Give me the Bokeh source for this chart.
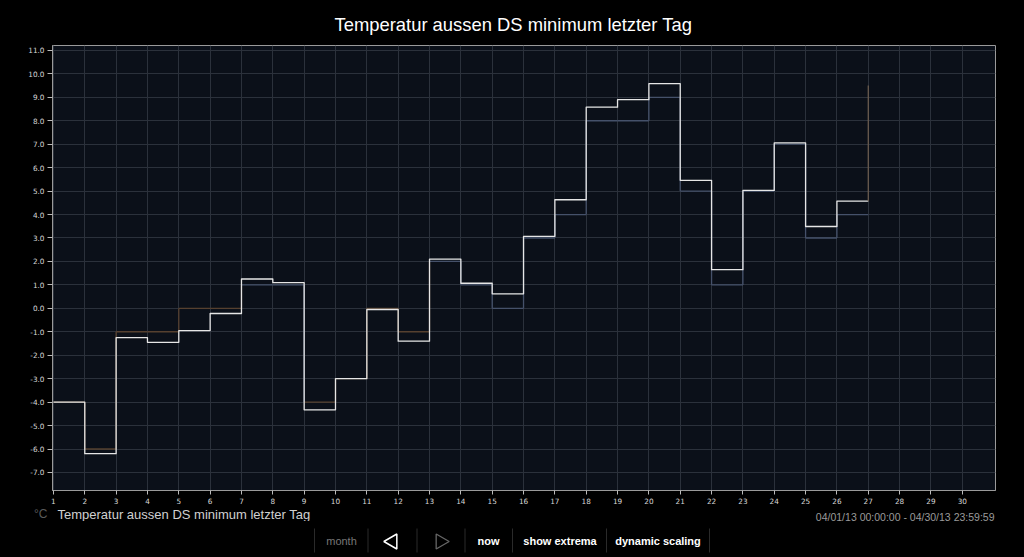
import math
from bokeh.plotting import figure
from bokeh.models import Range1d, FixedTicker, PrintfTickFormatter, ColumnDataSource
from bokeh.layouts import column
from bokeh.embed import file_html
from bokeh.resources import INLINE
from bokeh.core.properties import value

# ---- data -------------------------------------------------------------
days = list(range(1, 28))  # day boundaries (1 .. 27)
tagesminimum = [-4.0, -6.2, -1.25, -1.45, -0.95, -0.22, 1.25, 1.1, -4.33, -3.0,
                -0.05, -1.4, 2.1, 1.07, 0.62, 3.07, 4.63, 8.58, 8.9, 9.58,
                5.46, 1.65, 5.03, 7.06, 3.49, 4.57]
ganzzahlig = [-4, -6, -1, -1, 0, 0, 1, 1, -4, -3,
              0, -1, 2, 1, 0, 3, 4, 8, 8, 9,
              5, 1, 5, 7, 3, 4]
aktuell_tag = 27
aktuell_wert = 9.5
x_ticks = list(range(1, 31))
y_ticks = list(range(-7, 12))
title_text = "Temperatur aussen DS minimum letzter Tag"
unit_text = "°C"
legend_text = "Temperatur aussen DS minimum letzter Tag"
date_text = "04/01/13 00:00:00 - 04/30/13 23:59:59"
button_labels = ["month", "now", "show extrema", "dynamic scaling"]

W = 1022
BG = "#000000"
FL, FR = 52, 995  # frame left / right on the page

# ---- main figure (page y 0..506) ----------------------------------------
p = figure(width=W, height=506, output_backend="svg", toolbar_location=None,
           x_range=Range1d(0.97, 31.06), y_range=Range1d(-7.77, 11.21),
           min_border_left=FL, min_border_right=W - FR, min_border_top=45,
           min_border_bottom=16)
p.background_fill_color = "#0b1019"
p.border_fill_color = BG
p.outline_line_color = "#9a9a9a"
p.outline_line_width = 1

p.title.text = title_text
p.title.align = "left"
p.title.offset = 282
p.title.standoff = 21
p.title.text_color = "#ffffff"
p.title.text_font = "Liberation Sans"
p.title.text_font_size = "18.4px"
p.title.text_font_style = "normal"

for ax in (p.xaxis[0], p.yaxis[0]):
    ax.axis_line_color = "#9a9a9a"
    ax.major_tick_line_color = "#bbbbbb"
    ax.minor_tick_line_color = None
    ax.major_label_text_color = "#d8d8d8"
    ax.major_label_text_font = "DejaVu Sans"
    ax.major_label_text_font_size = "7.3px"
    ax.major_tick_in = 0
    ax.major_tick_out = 4
    ax.major_label_standoff = 3

p.xaxis.ticker = FixedTicker(ticks=x_ticks)
p.yaxis.ticker = FixedTicker(ticks=y_ticks)
p.yaxis.formatter = PrintfTickFormatter(format="%.1f")
p.yaxis.major_tick_out = 5

p.xgrid.ticker = FixedTicker(ticks=x_ticks)
p.ygrid.ticker = FixedTicker(ticks=y_ticks)
p.grid.grid_line_color = "#2b313b"
p.grid.grid_line_width = 1

# integer series, coloured by sign of the source value
x0, y0, x1, y1, cols = [], [], [], [], []
for i in range(len(ganzzahlig)):
    c = "#56402f" if tagesminimum[i] < 0 else "#45516a"
    x0.append(days[i]); y0.append(ganzzahlig[i]); x1.append(days[i + 1]); y1.append(ganzzahlig[i]); cols.append(c)
    if i + 1 < len(ganzzahlig):
        x0.append(days[i + 1]); y0.append(ganzzahlig[i]); x1.append(days[i + 1]); y1.append(ganzzahlig[i + 1]); cols.append(c)
seg_src = ColumnDataSource(dict(x0=x0, y0=y0, x1=x1, y1=y1, c=cols))
p.segment(x0="x0", y0="y0", x1="x1", y1="y1", color="c", line_width=1.3, source=seg_src)

# main white step line
p.step(x=days, y=tagesminimum + [tagesminimum[-1]], mode="after",
       line_color="#e6e6e6", line_width=1.3, line_join="round")

# current value spike
p.segment(x0=[aktuell_tag], y0=[tagesminimum[-1]], x1=[aktuell_tag], y1=[aktuell_wert],
          line_color="#6e5e50", line_width=1.2)


def strip(fig):
    fig.background_fill_color = BG
    fig.border_fill_color = BG
    fig.outline_line_color = None
    fig.grid.visible = False


# ---- legend row (page y 506..521) ---------------------------------------
lg = figure(width=W, height=15, output_backend="svg", toolbar_location=None,
            x_range=Range1d(FL, FR), y_range=Range1d(521, 506),
            min_border_left=FL, min_border_right=W - FR, min_border_top=0, min_border_bottom=0)
strip(lg)
lg.xaxis.visible = False
lg.yaxis.ticker = FixedTicker(ticks=[])
lg.yaxis.axis_line_color = None
lg.yaxis.major_tick_line_color = None
lg.yaxis.minor_tick_line_color = None
lg.yaxis.axis_label = unit_text
lg.yaxis.axis_label_orientation = "horizontal"
lg.yaxis.axis_label_text_color = "#5a5a5a"
lg.yaxis.axis_label_text_font = "Liberation Sans"
lg.yaxis.axis_label_text_font_size = "12px"
lg.yaxis.axis_label_text_font_style = "normal"
lg.yaxis.axis_label_standoff = 5
lg.text(x=[57], y=[514], text=[legend_text], text_color="#d0d0d0",
        text_font=value("Liberation Sans"), text_font_size="13px",
        text_align="left", text_baseline="middle")
lg.text(x=[994], y=[516], text=[date_text], text_color="#9a9a9a",
        text_font=value("Liberation Sans"), text_font_size="10.5px",
        text_align="right", text_baseline="middle")

# ---- button row (page y 521..555) ---------------------------------------
b = figure(width=W, height=34, output_backend="svg", toolbar_location=None,
           x_range=Range1d(FL, FR), y_range=Range1d(555, 521),
           min_border_left=FL, min_border_right=W - FR, min_border_top=0, min_border_bottom=0)
strip(b)
b.axis.visible = False

sep_x = [314, 367.5, 416.5, 464.5, 512, 606, 709]
b.segment(x0=sep_x, y0=[528] * len(sep_x), x1=sep_x, y1=[552] * len(sep_x),
          line_color="#2a2a2a", line_width=1)

btn_x = [341, 488, 559.5, 657.5]
btn_col = ["#777777", "#ffffff", "#ffffff", "#ffffff"]
btn_style = ["normal", "bold", "bold", "bold"]
for lbl, bx, bc, bst in zip(button_labels, btn_x, btn_col, btn_style):
    b.text(x=[bx], y=[540], text=[lbl], text_color=bc, text_font=value("Liberation Sans"),
           text_font_size="11px", text_font_style=bst, text_align="center", text_baseline="middle")

# navigation arrows
b.scatter(x=[392], y=[541], marker="triangle", angle=math.pi / 2, size=15,
          fill_color=None, line_color="#ffffff", line_width=1.5)
b.scatter(x=[440], y=[541], marker="triangle", angle=-math.pi / 2, size=15,
          fill_color=None, line_color="#666666", line_width=1.3)

layout = column(p, lg, b, spacing=0)
html = file_html(layout, INLINE)
html = html.replace("</head>",
                    "<style>html,body{background:#000000;margin:0;padding:0;overflow:hidden;}</style></head>", 1)
open("out.html", "w").write(html)
